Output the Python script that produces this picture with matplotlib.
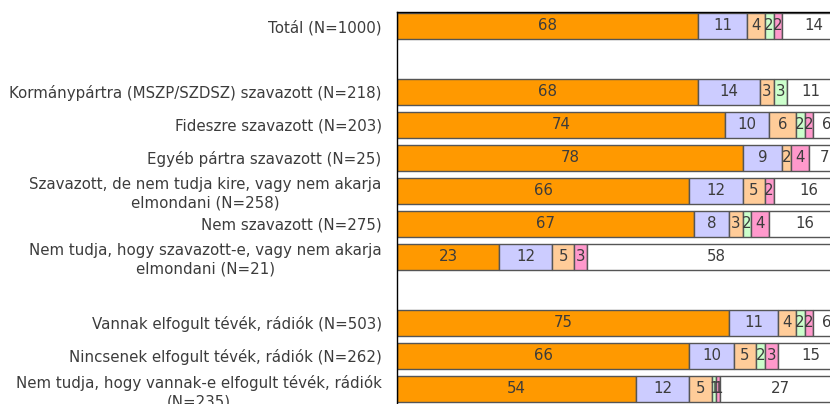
import matplotlib
matplotlib.use("Agg")
import matplotlib.pyplot as plt
import numpy as np

# row labels, top to bottom; empty strings are spacer rows
labels = [
    "Totál (N=1000)",
    "",
    "Kormánypártra (MSZP/SZDSZ) szavazott (N=218)",
    "Fideszre szavazott (N=203)",
    "Egyéb pártra szavazott (N=25)",
    "Szavazott, de nem tudja kire, vagy nem akarja\nelmondani (N=258)",
    "Nem szavazott (N=275)",
    "Nem tudja, hogy szavazott-e, vagy nem akarja\nelmondani (N=21)",
    "",
    "Vannak elfogult tévék, rádiók (N=503)",
    "Nincsenek elfogult tévék, rádiók (N=262)",
    "Nem tudja, hogy vannak-e elfogult tévék, rádiók\n(N=235)",
]

# answer categories (segment values per row), 0 for spacer rows
s1 = [68, 0, 68, 74, 78, 66, 67, 23, 0, 75, 66, 54]
s2 = [11, 0, 14, 10, 9, 12, 8, 12, 0, 11, 10, 12]
s3 = [4, 0, 3, 6, 2, 5, 3, 5, 0, 4, 5, 5]
s4 = [2, 0, 3, 2, 0, 0, 2, 0, 0, 2, 2, 1]
s5 = [2, 0, 0, 2, 4, 2, 4, 3, 0, 2, 3, 1]
s6 = [14, 0, 11, 6, 7, 16, 16, 58, 0, 6, 15, 27]

series = [s1, s2, s3, s4, s5, s6]
colors = ["#FF9900", "#CCCCFF", "#FFCC99", "#CCFFCC", "#FF99CC", "#FFFFFF"]

W, H = 830, 404
fig = plt.figure(figsize=(W / 100, H / 100), dpi=100)

# axes runs past the right and bottom edges of the picture (cropped chart)
ylo, yhi = -0.42, 12.5
row_px = 33.0
ax_h = (yhi - ylo) * row_px
top_px = 12
ax = fig.add_axes([397 / W, (H - top_px - ax_h) / H, 443 / W, ax_h / H])

y = np.arange(len(labels))
left = np.zeros(len(labels))
for vals, col in zip(series, colors):
    vals = np.array(vals, dtype=float)
    mask = vals > 0
    ax.barh(y[mask], vals[mask], left=left[mask], height=0.78, color=col,
            edgecolor="#555555", linewidth=1.0)
    for yi, l, v in zip(y[mask], left[mask], vals[mask]):
        ax.text(l + v / 2, yi, f"{int(v)}", ha="center", va="center",
                fontsize=10.8, color="#3c3c3c")
    left += vals

ax.set_xlim(0, 100)
ax.set_ylim(yhi, ylo)
ax.set_yticks(y)
ax.set_yticklabels(labels, fontsize=10.8, color="#3c3c3c")
for lbl in ax.get_yticklabels():
    lbl.set_multialignment("center")
    lbl.set_linespacing(1.3)
ax.tick_params(axis="y", length=0, pad=11)
ax.set_xticks([])
for sp in ax.spines.values():
    sp.set_color("black")
    sp.set_linewidth(1.0)

fig.savefig("out.png", dpi=100)
